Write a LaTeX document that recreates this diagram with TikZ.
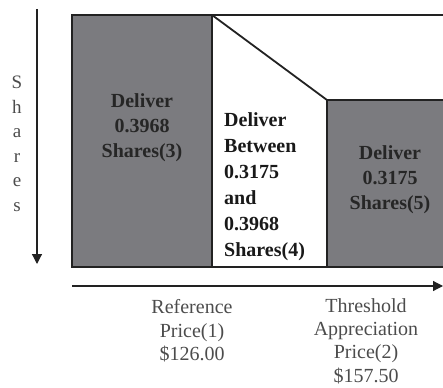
\documentclass[tikz,border=0pt]{standalone}
\usepackage{fontspec}
\setmainfont{Liberation Serif}
\usetikzlibrary{arrows.meta}
\definecolor{boxgray}{HTML}{7B7B7F}
\definecolor{edge}{HTML}{222222}
\begin{document}
\begin{tikzpicture}[x=1pt,y=-1pt,
  region/.style={draw=edge,line width=1.8pt},
  boxtxt/.style={font=\bfseries\fontsize{20}{25}\selectfont,text=black!85,align=center,inner sep=0pt},
  midtxt/.style={font=\bfseries\fontsize{20}{26}\selectfont,text=black!90,align=left,anchor=west,inner sep=0pt},
  lbl/.style={font=\fontsize{20}{23.3}\selectfont,text=black!70,align=center,inner sep=0pt},
  axis/.style={line width=1.2pt,draw=edge,-{Triangle[length=10pt,width=10pt]}}]
\useasboundingbox (0,0) rectangle (443,387);
% regions
\fill[boxgray] (72,15) rectangle (212,267);
\fill[boxgray] (327,100) rectangle (450,267);
\draw[region] (450,15) -- (72,15) -- (72,267) -- (450,267);
\draw[region] (212,15) -- (212,267);
\draw[region] (212,15) -- (327,100) -- (327,267);
\draw[region] (327,100) -- (450,100);
% texts
\node[boxtxt] (t3) at (142,128) {Deliver\\0.3968\\Shares(3)};
\node[midtxt] (t4) at (224,187) {Deliver\\Between\\0.3175\\and\\0.3968\\Shares(4)};
\node[boxtxt] (t5) at (390,180) {Deliver\\0.3175\\Shares(5)};
% axes
\coordinate (ya) at (37,9);
\coordinate (yb) at (37,264);
\draw[axis] (ya) -- (yb);
\coordinate (xa) at (72,286);
\coordinate (xb) at (443,286);
\draw[axis] (xa) -- (xb);
\node[font=\fontsize{19}{24.5}\selectfont,text=black!70,align=center,inner sep=0pt] (sh) at (17,144) {S\\h\\a\\r\\e\\s};
\node[lbl] (p1) at (192,331) {Reference\\Price(1)\\\$126.00};
\node[lbl] (p2) at (366,341) {Threshold\\Appreciation\\Price(2)\\\$157.50};
\end{tikzpicture}
\end{document}
